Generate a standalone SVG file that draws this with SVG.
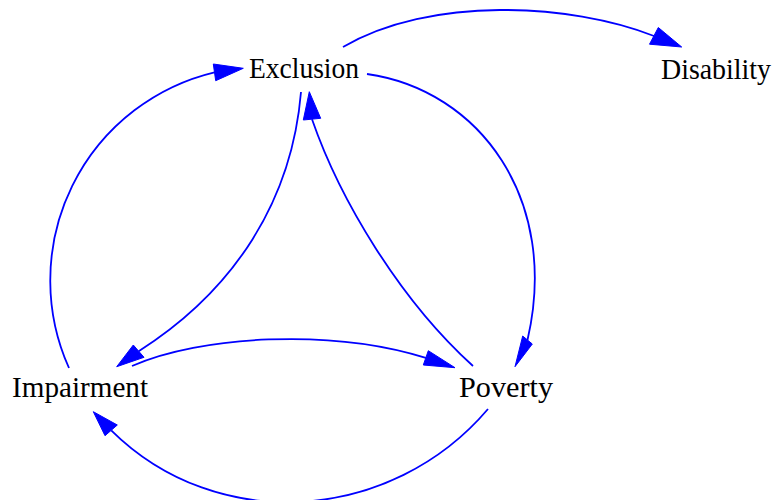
<svg xmlns="http://www.w3.org/2000/svg" width="778" height="500" viewBox="0 0 778 500">
<style>
.e{fill:none;stroke:#0000ff;stroke-width:1.8}
.ah{fill:#0000ff;stroke:#0000ff;stroke-width:1}
text{font-family:'Liberation Serif','Times New Roman',serif;font-size:30px;fill:#000;text-anchor:middle}
</style>
<rect width="778" height="500" fill="#fff"/>
<g id="edges">
<g id="e-exclusion-disability"><path class="e" d="M343,47 C430,-4 570,3 654,36"/><polygon class="ah" points="681.7,47 658.3,27.5 649.5,44.2"/></g>
<g id="e-impairment-exclusion"><path class="e" d="M69,368 A214,214 0 0 1 214.5,72.3"/><polygon class="ah" points="243.3,68.3 213.3,64 215.7,80.7"/></g>
<g id="e-exclusion-poverty"><path class="e" d="M367,74 C480,90 560,200 527.5,340"/><polygon class="ah" points="515,366.7 522.7,336 532.3,344"/></g>
<g id="e-exclusion-impairment"><path class="e" d="M301,92 C292,200 235,290 138.7,351.2"/><polygon class="ah" points="116.7,366.7 133.3,345 144,357.3"/></g>
<g id="e-poverty-exclusion"><path class="e" d="M473,366 C400,300 340,200 312,119.2"/><polygon class="ah" points="309.3,91.7 303.3,120 320.7,118.3"/></g>
<g id="e-impairment-poverty"><path class="e" d="M132,366 C200,336 330,328 425.8,357.8"/><polygon class="ah" points="455,367.7 428.3,350.7 423.3,365"/></g>
<g id="e-poverty-impairment"><path class="e" d="M488,409 C392,522 218,536 111.2,430.3"/><polygon class="ah" points="93.3,411.7 117.3,425 105,435.7"/></g>
</g>
<g id="exclusion"><text x="304" y="78" textLength="110" lengthAdjust="spacingAndGlyphs">Exclusion</text></g>
<g id="disability"><text x="716" y="79" textLength="110" lengthAdjust="spacingAndGlyphs">Disability</text></g>
<g id="impairment"><text x="80" y="397" textLength="136" lengthAdjust="spacingAndGlyphs">Impairment</text></g>
<g id="poverty"><text x="506" y="397" textLength="94" lengthAdjust="spacingAndGlyphs">Poverty</text></g>
</svg>
